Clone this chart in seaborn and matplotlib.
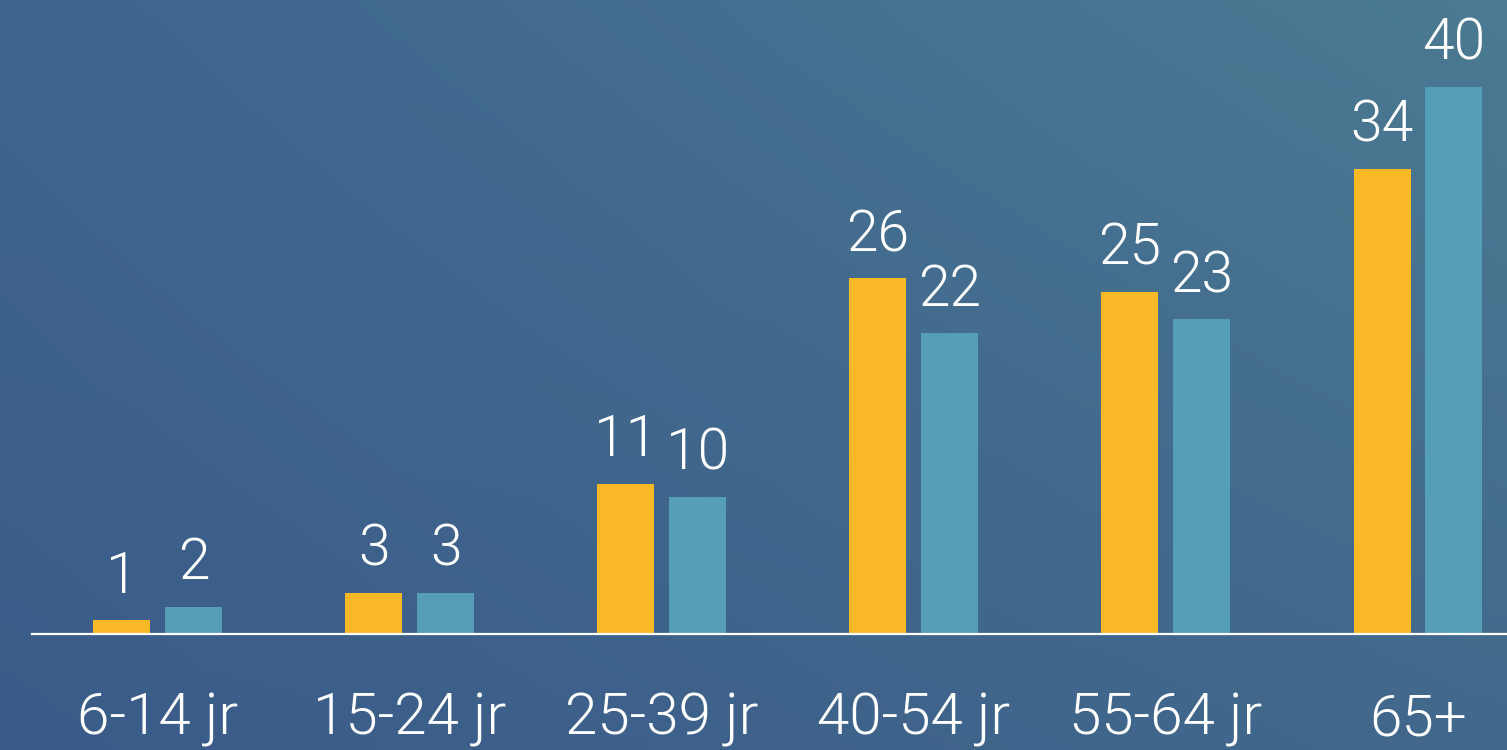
import numpy as np
import pandas as pd
import seaborn as sns
import matplotlib.pyplot as plt
from matplotlib.colors import to_rgb

# data
age_groups = ['6-14 jr', '15-24 jr', '25-39 jr', '40-54 jr', '55-64 jr', '65+']
series_a = [1, 3, 11, 26, 25, 34]
series_b = [2, 3, 10, 22, 23, 40]
series_names = ['A', 'B']

df = pd.DataFrame({
    'leeftijd': age_groups * 2,
    'waarde': series_a + series_b,
    'serie': [series_names[0]] * len(age_groups) + [series_names[1]] * len(age_groups),
})

sns.set_theme(style='white')
plt.rcParams['font.family'] = ['Roboto', 'DejaVu Sans']

fig = plt.figure(figsize=(15.07, 7.5), dpi=100)

# gradient background
bg = fig.add_axes([0, 0, 1, 1], zorder=0)
tl, tr = np.array(to_rgb('#3f658f')), np.array(to_rgb('#4b7a92'))
bl, br = np.array(to_rgb('#3a5b89')), np.array(to_rgb('#42698c'))
u = np.linspace(0, 1, 200)[None, :, None]
v = np.linspace(0, 1, 100)[:, None, None]
img = (1 - v) * ((1 - u) * tl + u * tr) + v * ((1 - u) * bl + u * br)
bg.imshow(img, aspect='auto', extent=[0, 1, 0, 1])
bg.axis('off')

ax = fig.add_axes([32 / 1507, 116 / 750, 1475 / 1507, 634 / 750], zorder=1)
ax.patch.set_alpha(0)
sns.barplot(data=df, x='leeftijd', y='waarde', hue='serie',
            palette=['#f9b825', '#559eb8'], width=0.571, gap=0.208,
            saturation=1, linewidth=0, legend=False, ax=ax)

for c in ax.containers:
    ax.bar_label(c, padding=11, color='white', fontsize=41, fontweight=300)

ax.set_xlim(-0.498, 5.353)
ax.set_ylim(0, 46.35)
ax.set_xlabel('')
ax.set_ylabel('')
ax.set_yticks([])
for s in ['top', 'left', 'right']:
    ax.spines[s].set_visible(False)
ax.spines['bottom'].set_color('white')
ax.spines['bottom'].set_linewidth(1.6)
ax.tick_params(axis='x', length=0, pad=42, labelsize=42, labelcolor='white')
for t in ax.get_xticklabels():
    t.set_fontweight(300)

fig.savefig('out.png', dpi=100)
